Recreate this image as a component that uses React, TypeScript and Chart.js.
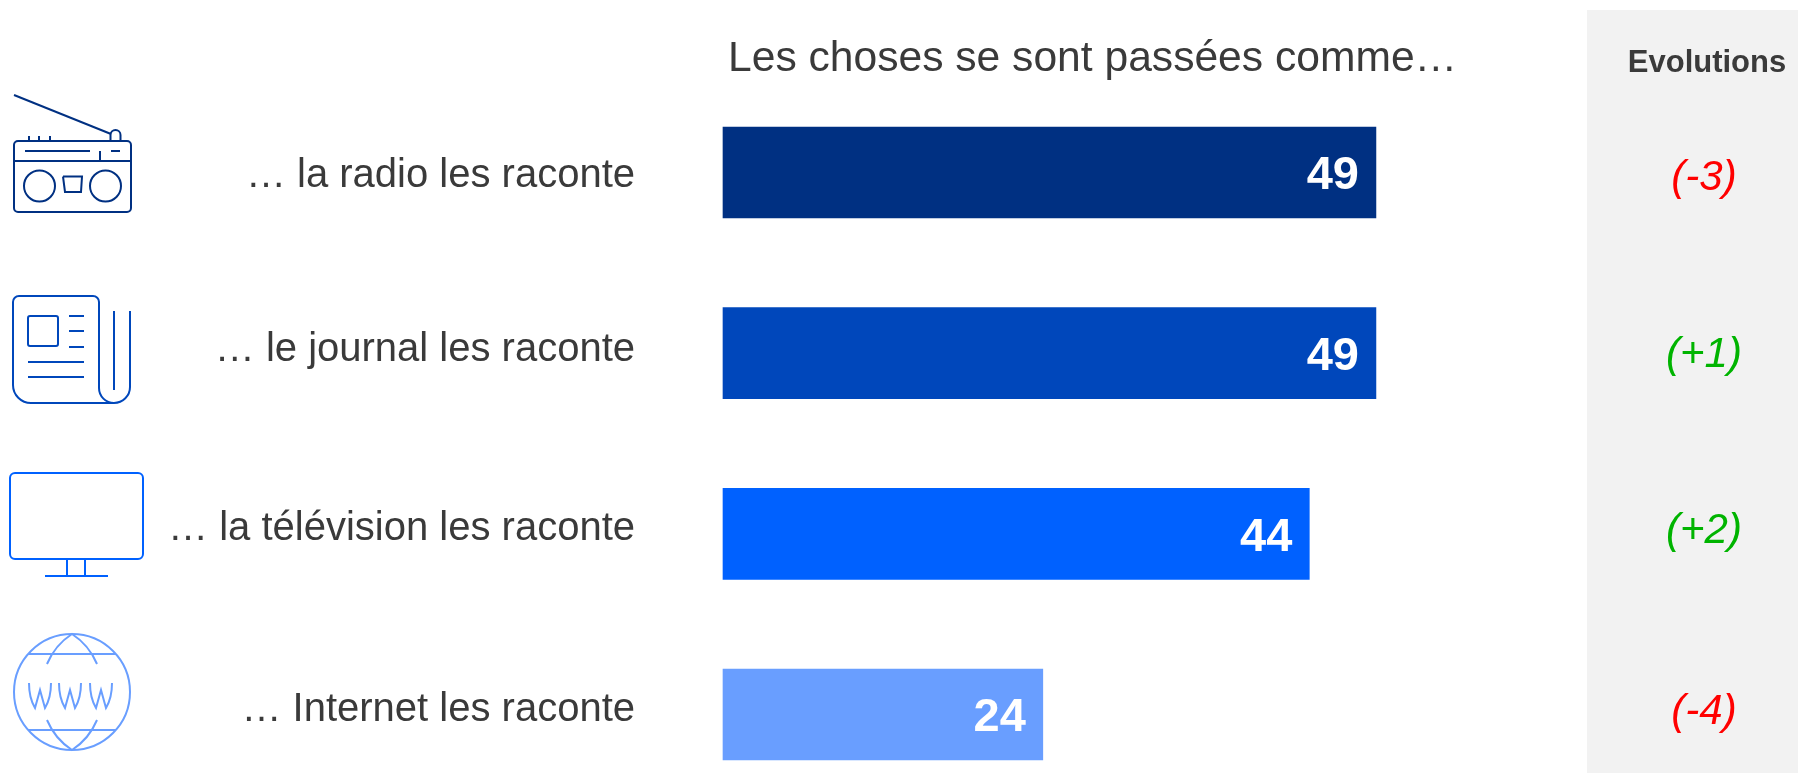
import React, { useEffect, useRef } from "react";
import { Chart, registerables } from "chart.js";

Chart.register(...registerables);

const categories = ["… la radio les raconte", "… le journal les raconte", "… la télévision les raconte", "… Internet les raconte"];
const values = [49, 49, 44, 24];
const evolutions = ["(-3)", "(+1)", "(+2)", "(-4)"];
const evolutionColors = ["#FF0000", "#00B400", "#00B400", "#FF0000"];
const barColors = ["#003082", "#0047BB", "#0061FF", "#699EFF"];
const title = "Les choses se sont passées comme…";
const panelTitle = "Evolutions";
const labelY = [176, 350, 529, 710];
const evoY = [178, 355, 531, 712];
const FONT = '"Liberation Sans", Arial, sans-serif';
const TEXT = "#3A3A3A";

function line(c: CanvasRenderingContext2D, pts: number[]) {
  c.beginPath();
  c.moveTo(pts[0], pts[1]);
  for (let i = 2; i < pts.length; i += 2) c.lineTo(pts[i], pts[i + 1]);
  c.stroke();
}
function rrect(c: CanvasRenderingContext2D, x: number, y: number, w: number, h: number, r: number) {
  c.beginPath();
  c.roundRect(x, y, w, h, r);
  c.stroke();
}
function circ(c: CanvasRenderingContext2D, x: number, y: number, r: number) {
  c.beginPath();
  c.arc(x, y, r, 0, Math.PI * 2);
  c.stroke();
}
function radio(c: CanvasRenderingContext2D) {
  c.strokeStyle = barColors[0];
  line(c, [14, 95, 111, 134]);
  c.beginPath();
  c.moveTo(110.5, 141);
  c.lineTo(110.5, 135);
  c.arc(115.5, 135, 5, Math.PI, 0);
  c.lineTo(120.5, 141);
  c.stroke();
  rrect(c, 14, 141, 117, 71, 4);
  line(c, [14, 161, 131, 161]);
  line(c, [29, 136, 29, 141]);
  line(c, [39, 136, 39, 141]);
  line(c, [50, 136, 50, 141]);
  line(c, [25, 151, 90, 151]);
  line(c, [100, 151, 100, 161]);
  line(c, [111, 151, 120, 151]);
  circ(c, 39.5, 186, 15.5);
  circ(c, 105.5, 186, 15.5);
  line(c, [63, 176.5, 82, 176.5, 81, 192, 65, 192, 63, 176.5]);
}
function paper(c: CanvasRenderingContext2D) {
  c.strokeStyle = barColors[1];
  c.beginPath();
  c.moveTo(99, 388);
  c.lineTo(99, 302);
  c.arcTo(99, 296, 93, 296, 6);
  c.lineTo(19, 296);
  c.arcTo(13, 296, 13, 302, 6);
  c.lineTo(13, 385);
  c.arcTo(13, 403, 31, 403, 18);
  c.lineTo(114, 403);
  c.arcTo(130, 403, 130, 387, 16);
  c.lineTo(130, 311);
  c.moveTo(99, 388);
  c.arcTo(99, 403, 114, 403, 15);
  c.moveTo(114, 390);
  c.lineTo(114, 311);
  c.stroke();
  rrect(c, 28, 316, 30, 30, 2);
  line(c, [69, 316, 84, 316]);
  line(c, [69, 331, 84, 331]);
  line(c, [69, 347, 84, 347]);
  line(c, [28, 362, 84, 362]);
  line(c, [28, 377, 84, 377]);
}
function tv(c: CanvasRenderingContext2D) {
  c.strokeStyle = barColors[2];
  rrect(c, 10, 473, 133, 86, 5);
  line(c, [67, 559, 67, 576]);
  line(c, [85, 559, 85, 576]);
  line(c, [45, 576, 108, 576]);
}
function globe(c: CanvasRenderingContext2D) {
  c.strokeStyle = barColors[3];
  circ(c, 72, 692, 58);
  line(c, [28, 654, 116, 654]);
  line(c, [28, 730, 116, 730]);
  c.beginPath();
  c.moveTo(47, 664);
  c.quadraticCurveTo(55, 645, 72, 634);
  c.quadraticCurveTo(89, 645, 97, 664);
  c.moveTo(47, 720);
  c.quadraticCurveTo(55, 739, 72, 750);
  c.quadraticCurveTo(89, 739, 97, 720);
  c.stroke();
  for (const x of [29, 59, 90]) {
    c.beginPath();
    c.moveTo(x, 683);
    c.quadraticCurveTo(x, 698, x + 6, 708);
    c.lineTo(x + 11, 690);
    c.lineTo(x + 16, 708);
    c.quadraticCurveTo(x + 22, 698, x + 22, 683);
    c.stroke();
  }
}

const decorations = {
  id: "decorations",
  beforeDraw(chart: any) {
    const c = chart.ctx as CanvasRenderingContext2D;
    c.save();
    c.fillStyle = "#F2F2F2";
    c.fillRect(1587, 10, 211, 763);
    c.restore();
  },
  afterDraw(chart: any) {
    const c = chart.ctx as CanvasRenderingContext2D;
    const meta = chart.getDatasetMeta(0);
    c.save();
    c.textBaseline = "middle";
    c.fillStyle = TEXT;
    c.textAlign = "left";
    c.font = `42.6px ${FONT}`;
    c.fillText(title, 728, 59);
    c.textAlign = "right";
    c.font = `40px ${FONT}`;
    categories.forEach((t, i) => c.fillText(t, 635, labelY[i]));
    c.textAlign = "center";
    c.font = `bold 31px ${FONT}`;
    c.fillText(panelTitle, 1707, 63);
    c.font = `italic 42px ${FONT}`;
    evolutions.forEach((t, i) => {
      c.fillStyle = evolutionColors[i];
      c.fillText(t, 1704, evoY[i]);
    });
    c.textAlign = "right";
    c.fillStyle = "#FFFFFF";
    c.font = `bold 47px ${FONT}`;
    meta.data.forEach((el: any, i: number) => {
      c.fillText(String(values[i]), el.x - 17, el.y + 4);
    });
    c.lineWidth = 2;
    radio(c);
    paper(c);
    tv(c);
    globe(c);
    c.restore();
  },
};

export default function App() {
  const ref = useRef<HTMLCanvasElement>(null);
  useEffect(() => {
    document.body.style.margin = "0";
    document.body.style.background = "#FFFFFF";
    const chart = new Chart(ref.current!, {
      type: "bar",
      data: {
        labels: categories,
        datasets: [
          {
            data: values,
            backgroundColor: barColors,
            barThickness: 91,
            clip: false,
          } as any,
        ],
      },
      options: {
        indexAxis: "y",
        animation: false,
        responsive: false,
        layout: { padding: { top: 172.5, bottom: 58.5, left: 0, right: 9 } },
        plugins: { legend: { display: false }, tooltip: { enabled: false }, title: { display: false } },
        scales: {
          x: { min: 0, max: 80, display: false, grid: { display: false } },
          y: {
            type: "category",
            offset: false,
            grid: { display: false },
            border: { display: false },
            ticks: { display: false },
            afterFit: (s: any) => {
              s.width = 723;
            },
          },
        },
      },
      plugins: [decorations],
    } as any);
    return () => chart.destroy();
  }, []);
  return (
    <div style={{ width: 1798, height: 773, overflow: "hidden" }}>
      <canvas ref={ref} width={1798} height={773} style={{ display: "block" }} />
    </div>
  );
}
